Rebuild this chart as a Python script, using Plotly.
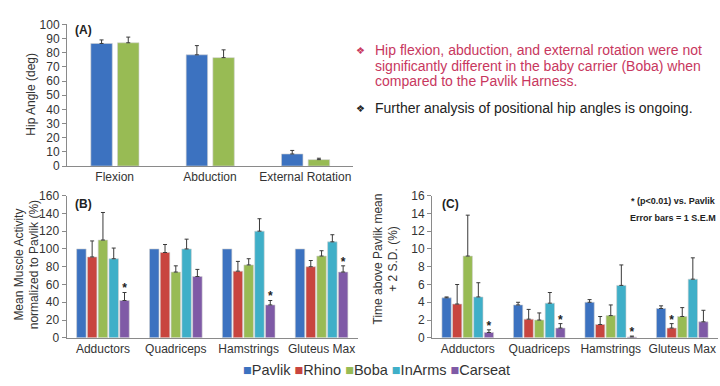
import plotly.graph_objects as go

# ---------------- data ----------------
series = ["Pavlik", "Rhino", "Boba", "InArms", "Carseat"]
colors = ["#3C72C0", "#C8453F", "#98BB54", "#3FAFC8", "#7F5AA6"]

a_cats = ["Flexion", "Abduction", "External Rotation"]
a_series = ["Pavlik", "Boba"]
a_vals = {"Pavlik": [86.5, 78.5, 8.5], "Boba": [87, 76.5, 4.5]}
a_top = {"Pavlik": [89, 85, 11], "Boba": [91, 82, 5.5]}

muscles = ["Adductors", "Quadriceps", "Hamstrings", "Gluteus Max"]
b_vals = {
    "Pavlik": [100, 100, 100, 100],
    "Rhino": [91, 96, 75, 80],
    "Boba": [110, 74, 82, 92],
    "InArms": [89, 100, 120, 108],
    "Carseat": [42, 69, 37, 74],
}
b_top = {
    "Pavlik": [100, 100, 100, 100],
    "Rhino": [109, 105, 86, 87],
    "Boba": [141, 81, 89, 98],
    "InArms": [101, 111, 134, 116],
    "Carseat": [51, 77, 42, 81],
}
b_star = {
    "Pavlik": [0, 0, 0, 0],
    "Rhino": [0, 0, 0, 0],
    "Boba": [0, 0, 0, 0],
    "InArms": [0, 0, 0, 0],
    "Carseat": [1, 0, 1, 1],
}
c_vals = {
    "Pavlik": [4.5, 3.7, 4.0, 3.3],
    "Rhino": [3.8, 2.1, 1.5, 1.1],
    "Boba": [9.2, 2.0, 2.5, 2.4],
    "InArms": [4.6, 3.9, 5.9, 6.6],
    "Carseat": [0.6, 1.1, 0.1, 1.8],
}
c_top = {
    "Pavlik": [4.6, 4.0, 4.3, 3.6],
    "Rhino": [6.0, 3.2, 2.4, 1.6],
    "Boba": [13.8, 2.8, 3.7, 3.4],
    "InArms": [6.2, 5.1, 8.2, 9.0],
    "Carseat": [0.9, 1.6, 0.2, 3.1],
}
c_star = {
    "Pavlik": [0, 0, 0, 0],
    "Rhino": [0, 0, 0, 1],
    "Boba": [0, 0, 0, 0],
    "InArms": [0, 0, 0, 0],
    "Carseat": [1, 1, 1, 0],
}

bullet1 = ["Hip flexion, abduction, and external rotation were not",
           "significantly different in the baby carrier (Boba) when",
           "compared to the Pavlik Harness."]
bullet2 = "Further analysis of positional hip angles is ongoing."

FONT = "Arial, Liberation Sans, sans-serif"
color_of = dict(zip(series, colors))

W, H = 720, 386


def X(px):
    return px / W


def Y(py):
    return 1 - py / H


fig = go.Figure()


def err(vals, tops):
    return dict(type="data", symmetric=False, array=[t - v for v, t in zip(vals, tops)],
                arrayminus=[0] * len(vals), color="#3a3a3a", thickness=1, width=2)


bar_line = dict(color="#d0d0d0", width=0.6)

# Panel A
a_offsets = {"Pavlik": -0.25, "Boba": 0.03}
for s in a_series:
    fig.add_trace(go.Bar(x=a_cats, y=a_vals[s], name=s, marker_color=color_of[s],
                         marker_line=bar_line, width=0.225, offset=a_offsets[s],
                         error_y=err(a_vals[s], a_top[s]), xaxis="x", yaxis="y",
                         showlegend=False))

# Panels B and C
for ax, vals, tops, stars, off in [("2", b_vals, b_top, b_star, 3.5), ("3", c_vals, c_top, c_star, 0.35)]:
    for s in series:
        fig.add_trace(go.Bar(x=muscles, y=vals[s], name=s, marker_color=color_of[s],
                             marker_line=bar_line,
                             error_y=err(vals[s], tops[s]) if s != "Pavlik" or ax == "3" else None,
                             xaxis="x" + ax, yaxis="y" + ax, showlegend=False,
                             offsetgroup=s))
    for s in series:
        fig.add_trace(go.Scatter(x=muscles, y=[t + off for t in tops[s]], mode="text",
                                 text=["<b>*</b>" if f else "" for f in stars[s]],
                                 textfont=dict(size=12, color="#222", family=FONT),
                                 xaxis="x" + ax, yaxis="y" + ax, showlegend=False,
                                 offsetgroup=s, hoverinfo="skip"))

axis_common = dict(showgrid=False, zeroline=False, showline=True, linecolor="#8a8a8a",
                   linewidth=1, tickangle=0, tickfont=dict(size=12, color="#333", family=FONT))
yaxis_common = dict(axis_common, ticks="outside", ticklen=4, tickcolor="#8a8a8a")

fig.update_layout(
    width=W, height=H, margin=dict(l=0, r=0, t=0, b=0),
    paper_bgcolor="white", plot_bgcolor="white",
    font=dict(family=FONT, color="#333"),
    barmode="group", bargap=0.26, bargroupgap=0.12,
    scattermode="group",
    xaxis=dict(axis_common, domain=[X(67), X(353)], anchor="y", ticks=""),
    yaxis=dict(yaxis_common, domain=[Y(165), Y(18)], range=[0, 100], dtick=10, anchor="x"),
    xaxis2=dict(axis_common, domain=[X(66.5), X(358)], anchor="y2", ticks=""),
    yaxis2=dict(yaxis_common, domain=[Y(343.3), Y(195.7)], range=[0, 160], dtick=20, anchor="x2"),
    xaxis3=dict(axis_common, domain=[X(432), X(718)], anchor="y3", ticks=""),
    yaxis3=dict(yaxis_common, domain=[Y(343.3), Y(195.7)], range=[0, 16], dtick=2, anchor="x3"),
)

ann = []


def note(px, py, text, size, color="#333", xanchor="left", yanchor="middle", angle=0, align="left"):
    ann.append(dict(x=X(px), y=Y(py), xref="paper", yref="paper", text=text, showarrow=False,
                    xanchor=xanchor, yanchor=yanchor, textangle=angle, align=align,
                    font=dict(size=size, color=color, family=FONT)))


# axis titles
note(31, 91, "Hip Angle (deg)", 12, xanchor="center", angle=-90)
note(27, 268, "Mean Muscle Activity<br>normalized to Pavlik (%)", 12, xanchor="center",
     angle=-90, align="center")
note(386, 262, "Time above Pavlik mean<br>+ 2 S.D. (%)", 12, xanchor="center",
     angle=-90, align="center")

# panel letters
note(73, 24, "<b>(A)</b>", 12, "#222")
note(73, 204, "<b>(B)</b>", 12, "#222")
note(440, 204, "<b>(C)</b>", 12, "#222")

# significance / error notes
note(718, 201, "<b>*</b> <b>(p<0.01) vs. Pavlik</b>", 9, "#222", xanchor="right")
note(718, 219, "<b>Error bars = 1 S.E.M</b>", 9, "#222", xanchor="right")

# bullets
RED = "#C8375E"
note(354, 45, "❖", 10, RED)
for i, line in enumerate(bullet1):
    note(373, 45 + 16 * i, line, 14, RED)
note(354, 105, "❖", 10, "#222")
note(373, 105, bullet2, 14, "#222")

# legend row
legend_text = " ".join(f'<span style="color:{c}">■</span>{s}' for s, c in zip(series, colors))
note(376, 377, legend_text, 14.5, "#333", xanchor="center")

fig.update_layout(annotations=ann)

# remove the browser's default page margin so the 720x386 figure fills the window exactly
fig.write_html("out.html", config={"displayModeBar": False},
               post_script="document.body.style.margin='0';document.body.style.overflow='hidden';")
